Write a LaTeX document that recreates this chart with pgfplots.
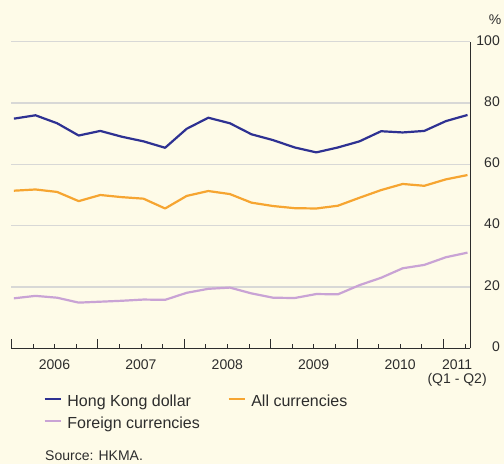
\documentclass[border=0pt]{standalone}
\usepackage{pgfplots}
\pgfplotsset{compat=1.18}
\usepackage{fontspec}
\setmainfont{Liberation Sans}
\definecolor{bg}{HTML}{FEFBE8}
\definecolor{hkd}{HTML}{2E3192}
\definecolor{allc}{HTML}{F6A531}
\definecolor{forc}{HTML}{C9A3D5}
\definecolor{gridc}{HTML}{D8D8D6}
\definecolor{txt}{HTML}{2D2D2D}
\begin{document}
\begin{tikzpicture}[x=1pt,y=1pt]
\fill[bg] (0,0) rectangle (504,464);
\path[use as bounding box] (0,0) rectangle (504,464);
\begin{axis}[
  at={(11.3pt,115.7pt)}, anchor=south west,
  scale only axis, width=458.7pt, height=306.6pt,
  xmin=0, xmax=21.236, ymin=0, ymax=100,
  axis x line*=bottom, axis y line*=right,
  axis line style={txt, line width=0.8pt},
  xtick={0,4,...,20}, xticklabels={},
  minor xtick={1,2,3,5,6,7,9,10,11,13,14,15,17,18,19,21},
  tick align=inside, major tick length=9pt, minor tick length=4.5pt,
  xtick style={txt, line width=0.8pt},
  extra x ticks={2,6,10,14,18,20.64},
  extra x tick labels={2006,2007,2008,2009,2010,{2011\\(Q1 - Q2)}},
  extra x tick style={major tick length=0pt},
  xticklabel style={font=\fontsize{14}{14}\selectfont, text=txt, align=center, yshift=-8pt},
  ytick={0,20,...,100},
  ytick style={draw=none},
  ymajorgrids, grid style={gridc, line width=1.4pt},
  yticklabel style={font=\fontsize{14}{14}\selectfont, text=txt, anchor=east, inner sep=0pt, xshift=30pt, yshift=1.5pt},
  /pgf/number format/assume math mode=true,
  legend columns=2,
  legend cell align=left,
  legend style={at={(0.0698,-0.1513)}, anchor=north west, draw=none, fill=none, inner sep=0pt,
    font=\fontsize{16}{16}\selectfont, text=txt, row sep=6pt,
    nodes={inner sep=0pt, text height=12pt, text depth=4pt},
    /tikz/every odd column/.append style={column sep=5.7pt},
    /tikz/every even column/.append style={column sep=27.5pt}},
  legend image code/.code={\draw[#1, line width=2.2pt] (0pt,4pt) -- (16pt,4pt);},
  line join=round,
]
\addplot[hkd, line width=2.2pt] coordinates {
(0.12,74.9)(1.12,76.0)(2.12,73.4)(3.12,69.4)(4.12,70.9)(5.12,69.0)(6.12,67.5)(7.12,65.4)
(8.12,71.6)(9.12,75.2)(10.12,73.4)(11.12,69.8)(12.12,67.9)(13.12,65.5)(14.12,63.9)(15.12,65.5)
(16.12,67.5)(17.12,70.8)(18.12,70.4)(19.12,70.9)(20.12,74.1)(21.12,76.1)};
\addlegendentry{Hong Kong dollar}
\addplot[allc, line width=2.2pt] coordinates {
(0.12,51.4)(1.12,51.8)(2.12,51.0)(3.12,48.0)(4.12,50.0)(5.12,49.3)(6.12,48.8)(7.12,45.6)
(8.12,49.7)(9.12,51.3)(10.12,50.3)(11.12,47.5)(12.12,46.4)(13.12,45.7)(14.12,45.6)(15.12,46.5)
(16.12,49.1)(17.12,51.6)(18.12,53.6)(19.12,53.0)(20.12,55.1)(21.12,56.5)};
\addlegendentry{All currencies}
\addplot[forc, line width=2.2pt] coordinates {
(0.12,16.3)(1.12,17.1)(2.12,16.5)(3.12,14.9)(4.12,15.2)(5.12,15.5)(6.12,15.9)(7.12,15.8)
(8.12,18.1)(9.12,19.4)(10.12,19.8)(11.12,17.9)(12.12,16.5)(13.12,16.4)(14.12,17.7)(15.12,17.6)
(16.12,20.6)(17.12,23.0)(18.12,26.1)(19.12,27.2)(20.12,29.7)(21.12,31.2)};
\addlegendentry{Foreign currencies}
\end{axis}
\node[font=\fontsize{14}{14}\selectfont, text=txt] at (495,444) {\%};
\node[anchor=base west, inner sep=0pt, font=\fontsize{14}{14}\selectfont, text=txt] at (45,3.5) {Source: HKMA.};
\end{tikzpicture}
\end{document}
